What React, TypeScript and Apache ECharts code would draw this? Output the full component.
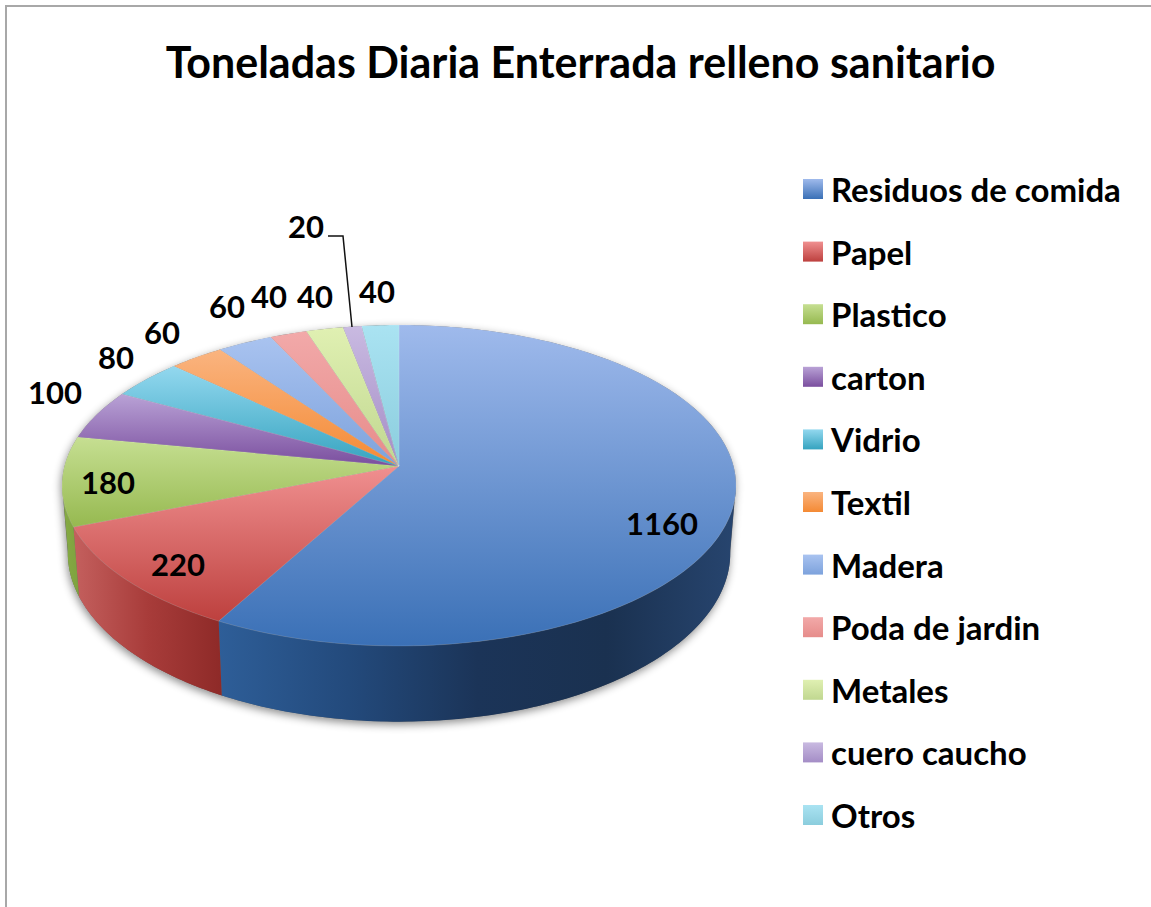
import React, { useEffect, useRef } from "react";
import * as echarts from "echarts";

const TITLE = "Toneladas Diaria Enterrada relleno sanitario";
const categories = ["Residuos de comida", "Papel", "Plastico", "carton", "Vidrio", "Textil", "Madera", "Poda de jardin", "Metales", "cuero caucho", "Otros"];
const values = [1160, 220, 180, 100, 80, 60, 60, 40, 40, 20, 40];

const topColors = ["#9fbaec", "#f09090", "#c6df92", "#b9a2d6", "#93d8ef", "#fab480", "#a9c3f0", "#f2a9a9", "#e0f0b2", "#c9bae1", "#aae3f2"];
const bottomColors = ["#3a70b6", "#bd403e", "#96b950", "#7a4e9e", "#35a3bf", "#f48a34", "#7da2dc", "#e68c8a", "#c0d790", "#a48dc6", "#8bcddd"];
const wallStops: Record<number, string[]> = {
  0: ["#2e5e98", "#234a7c", "#1b3458", "#1a3150", "#27456f"],
  1: ["#c4605e", "#a83c3a", "#8e2a28"],
  2: ["#86ab45", "#7ea23e"],
};
const labelPositions = [[662, 523], [178, 564], [108, 482], [55, 392], [116, 357], [162, 332], [227, 306], [269, 296], [315, 296], [306, 226], [377, 291]];

const CX = 399, CY = 466, A = 334.5, B = 158.1, K = 0.1215, DEPTH = 66.5, SHRINK = 0.983;
const total = values.reduce((a, b) => a + b, 0);
const FONT = "Lato";

function top(deg: number): number[] {
  const t = (deg * Math.PI) / 180;
  const u = Math.sin(t), v = -Math.cos(t), w = 1 - K * v;
  return [CX + (A * u) / w, CY + (B * v) / w];
}
function bottom(deg: number): number[] {
  const t = (deg * Math.PI) / 180;
  const v = -Math.cos(t), w = 1 - K * v;
  const p = top(deg);
  return [CX + (p[0] - CX) * SHRINK, p[1] + DEPTH / w];
}
function arc(fn: (d: number) => number[], a: number, b: number): number[][] {
  const out: number[][] = [];
  const n = Math.max(2, Math.ceil(Math.abs(b - a)));
  for (let i = 0; i <= n; i++) out.push(fn(a + ((b - a) * i) / n));
  return out;
}
function grad(c1: string, c2: string) {
  return new echarts.graphic.LinearGradient(0, 0, 0, 1, [{ offset: 0, color: c1 }, { offset: 1, color: c2 }]);
}

function makeRender(index: number) {
  return (_params: any, api: any) => {
    const value = api.value(0);
    const before = values.slice(0, index).reduce((a, b) => a + b, 0);
    const a0 = (before / total) * 360, a1 = ((before + value) / total) * 360;
    const children: any[] = [];
    if (index === 0) {
      const outline = [...arc(top, 263, 360), ...arc(top, 0, 97), ...arc(bottom, 97, 263)];
      children.push({
        type: "polygon",
        shape: { points: outline },
        style: { fill: "#666", shadowBlur: 9, shadowColor: "rgba(0,0,0,0.45)", shadowOffsetY: 3, shadowOffsetX: -1 },
      });
    }
    const w0 = Math.max(a0, 96), w1 = Math.min(a1, 264);
    if (w1 > w0) {
      const stops = wallStops[index] || ["#888", "#888"];
      children.push({
        type: "polygon",
        shape: { points: [...arc(top, w0, w1), ...arc(bottom, w1, w0)] },
        style: {
          fill: new echarts.graphic.LinearGradient(0, 0, 1, 0,
            stops.map((color, i) => ({ offset: i / (stops.length - 1), color }))),
        },
      });
    }
    children.push({
      type: "polygon",
      shape: { points: [[CX, CY], ...arc(top, a0, a1)] },
      style: { fill: grad(topColors[index], bottomColors[index]), stroke: "rgba(255,255,255,0.25)", lineWidth: 0.5 },
    });
    if (categories[index] === "cuero caucho") {
      children.push({
        type: "polyline",
        shape: { points: [[328, 236], [343, 236], [352, 327]] },
        style: { fill: "none", stroke: "#111", lineWidth: 1.5 },
      });
    }
    const lp = labelPositions[index];
    children.push({
      type: "text",
      z2: 50,
      style: { text: String(value), x: lp[0], y: lp[1], align: "center", verticalAlign: "middle", fontFamily: FONT, fontWeight: "bold", fontSize: 31, fill: "#000" },
    });
    return { type: "group", children };
  };
}

export default function App() {
  const ref = useRef<HTMLDivElement>(null);
  useEffect(() => {
    document.body.style.margin = "0";
    const chart = echarts.init(ref.current!, undefined, { renderer: "svg" });
    chart.setOption({
      animation: false,
      backgroundColor: "#fff",
      title: {
        text: TITLE, left: 575.5, top: 35, textAlign: "center",
        textStyle: { fontFamily: FONT, fontWeight: "bold", fontSize: 43, color: "#000" },
      },
      legend: {
        orient: "vertical", left: 798, top: 167.5, itemWidth: 20, itemHeight: 20, itemGap: 29.6,
        selectedMode: false, data: categories, icon: "rect",
        textStyle: { fontFamily: FONT, fontWeight: "bold", fontSize: 33, color: "#000", padding: [0, 0, 0, 3] },
      },
      graphic: [
        { type: "rect", shape: { x: 5, y: 5, width: 2, height: 902 }, style: { fill: "#a8a8a8" } },
        { type: "rect", shape: { x: 5, y: 5, width: 1146, height: 2 }, style: { fill: "#a8a8a8" } },
      ],
      series: categories.map((name, i) => ({
        type: "custom",
        name,
        coordinateSystem: "none",
        clip: false,
        itemStyle: { color: grad(topColors[i], bottomColors[i]) },
        data: [[values[i]]],
        renderItem: makeRender(i),
      })),
    });
    return () => chart.dispose();
  }, []);
  return <div ref={ref} style={{ position: "absolute", left: 0, top: 0, width: 1151, height: 907 }} />;
}
